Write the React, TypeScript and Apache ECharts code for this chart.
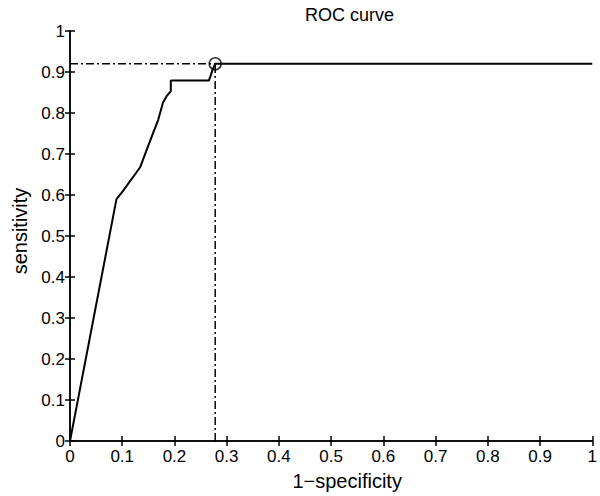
import React, { useEffect, useRef } from "react";
import * as echarts from "echarts";

const rocX = [0, 0.0828, 0.089, 0.099, 0.134, 0.153, 0.169, 0.178, 0.185, 0.193, 0.193, 0.266, 0.274, 0.278, 1];
const rocY = [0, 0.549, 0.59, 0.606, 0.667, 0.731, 0.784, 0.825, 0.841, 0.853, 0.879, 0.879, 0.909, 0.92, 0.92];
const optimalPoint = [0.278, 0.92];
const xTicks = { min: 0, max: 1, interval: 0.1 };
const yTicks = { min: 0, max: 1, interval: 0.1 };
const chartTitle = "ROC curve";
const xName = "1\u2212specificity";
const yName = "sensitivity";

const FONT = "Liberation Sans, Arial, Helvetica, sans-serif";

export default function App() {
  const ref = useRef<HTMLDivElement>(null);
  useEffect(() => {
    if (!ref.current) return;
    const chart = echarts.init(ref.current, null, { renderer: "svg" });
    const rocData = rocX.map((x, i) => [x, rocY[i]]);
    const axisLine = { show: true, lineStyle: { color: "#000", width: 1.5 } };
    const axisTick = { show: true, inside: true, length: 5, lineStyle: { color: "#000", width: 1.5 } };
    const labelStyle = { color: "#000", fontFamily: FONT, fontSize: 17 };
    const dashDot = { color: "#000", width: 1.5, type: [8, 3, 2, 3] as any };
    chart.setOption({
      animation: false,
      backgroundColor: "#fff",
      title: {
        text: chartTitle,
        left: 300,
        top: 1,
        textStyle: { color: "#000", fontFamily: FONT, fontSize: 18, fontWeight: "normal" },
      },
      grid: { left: 70, right: 7, top: 31, bottom: 53 },
      xAxis: [
        {
          type: "value",
          ...xTicks,
          position: "bottom",
          axisLine,
          axisTick,
          splitLine: { show: false },
          axisLabel: { ...labelStyle, margin: 7 },
          name: xName,
          nameLocation: "middle",
          nameGap: 30,
          nameTextStyle: { color: "#000", fontFamily: FONT, fontSize: 20, padding: [0, 0, 0, 32] },
        },
        {
          type: "value",
          ...xTicks,
          position: "top",
          axisLine,
          axisTick,
          splitLine: { show: false },
          axisLabel: { show: false },
        },
      ],
      yAxis: [
        {
          type: "value",
          ...yTicks,
          position: "left",
          axisLine,
          axisTick,
          splitLine: { show: false },
          axisLabel: { ...labelStyle, margin: 5 },
          name: yName,
          nameLocation: "middle",
          nameGap: 35,
          nameTextStyle: { color: "#000", fontFamily: FONT, fontSize: 20, padding: [0, 0, 0, 10] },
        },
        {
          type: "value",
          ...yTicks,
          position: "right",
          axisLine,
          axisTick,
          splitLine: { show: false },
          axisLabel: { show: false },
        },
      ],
      series: [
        {
          type: "line",
          data: [[xTicks.min, optimalPoint[1]], optimalPoint],
          symbol: "none",
          lineStyle: dashDot,
          silent: true,
        },
        {
          type: "line",
          data: [[optimalPoint[0], yTicks.min], optimalPoint],
          symbol: "none",
          lineStyle: dashDot,
          silent: true,
        },
        {
          type: "line",
          data: rocData,
          symbol: "none",
          lineStyle: { color: "#000", width: 2 },
          silent: true,
        },
        {
          type: "scatter",
          data: [optimalPoint],
          symbol: "circle",
          symbolSize: 12,
          itemStyle: { color: "none", borderColor: "#000", borderWidth: 1.5 },
          silent: true,
          z: 5,
        },
      ],
    });
    return () => chart.dispose();
  }, []);
  return <div ref={ref} style={{ width: 600, height: 496, position: "absolute", left: 0, top: 0 }} />;
}
